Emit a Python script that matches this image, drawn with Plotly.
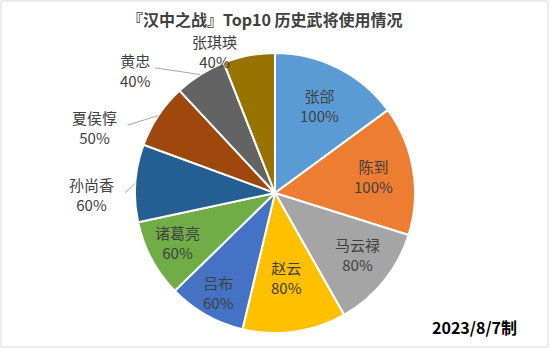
import math
import plotly.graph_objects as go

# ---- data ----
names = ["张郃", "陈到", "马云禄", "赵云", "吕布", "诸葛亮", "孙尚香", "夏侯惇", "黄忠", "张琪瑛"]
usage = [100, 100, 80, 80, 60, 60, 60, 50, 40, 40]
title_text = "『汉中之战』Top10 历史武将使用情况"
note_text = "2023/8/7制"

# ---- style ----
colors = ["#5B9BD5", "#ED7D31", "#A5A5A5", "#FFC000", "#4472C4",
          "#70AD47", "#255E91", "#9E480E", "#636363", "#997300"]
W, H = 550, 349
CX, CY, R = 275, 193, 140
FONT = "Noto Sans CJK SC, Noto Sans, sans-serif"
TXT = "#404040"
# label placement: (radius factor, angle offset from slice middle)
label_place = [(0.70, 0), (0.71, 0), (0.735, -2), (0.61, 0), (0.82, 0),
               (0.78, 1), (1.31, -4.6), (1.37, -13.5), (1.33, -16.5), (1.10, -12.5)]
# leader lines for outside labels: index -> end radius factor, end angle offset
leaders = {6: (1.07, -4), 7: (1.16, -8.9), 8: (1.24, -11.6)}


def px2paper(x, y):
    return x / W, 1 - y / H


def polar(angle_deg, rf):
    a = math.radians(angle_deg)
    return CX + rf * R * math.sin(a), CY - rf * R * math.cos(a)


fig = go.Figure(go.Pie(
    labels=names, values=usage, sort=False, direction="clockwise", rotation=0,
    marker=dict(colors=colors, line=dict(color="white", width=2)),
    textinfo="none", hoverinfo="none", showlegend=False,
    domain=dict(x=[(CX - R) / W, (CX + R) / W], y=[1 - (CY + R) / H, 1 - (CY - R) / H]),
))

total = sum(usage)
annotations = []
shapes = []
cum = 0
for i, (n, v) in enumerate(zip(names, usage)):
    mid = (cum + v / 2) / total * 360
    cum += v
    rf, off = label_place[i]
    lx, ly = polar(mid + off, rf)
    px, py = px2paper(lx, ly)
    annotations.append(dict(x=px, y=py, xref="paper", yref="paper", showarrow=False,
                            xanchor="center", yanchor="middle",
                            text=f"{n}<br>{v}%", align="center",
                            font=dict(family=FONT, size=15, color=TXT)))
    if i in leaders:
        erf, eoff = leaders[i]
        x0, y0 = polar(mid, 1.0)
        x1, y1 = polar(mid + eoff, erf)
        a0, b0 = px2paper(x0, y0)
        a1, b1 = px2paper(x1, y1)
        shapes.append(dict(type="line", xref="paper", yref="paper", x0=a0, y0=b0, x1=a1, y1=b1,
                           line=dict(color="#A6A6A6", width=1)))

tx, ty = px2paper(265, 19)
annotations.append(dict(x=tx, y=ty, xref="paper", yref="paper", showarrow=False,
                        xanchor="center", yanchor="middle", borderpad=0,
                        text=f"<b>{title_text}</b>",
                        font=dict(family=FONT, size=16, color=TXT)))
nx, ny = px2paper(474, 327)
annotations.append(dict(x=nx, y=ny, xref="paper", yref="paper", showarrow=False,
                        xanchor="center", yanchor="middle",
                        text=f"<b>{note_text}</b>",
                        font=dict(family=FONT, size=16, color="#000000")))

shapes.append(dict(type="rect", xref="paper", yref="paper",
                   x0=1 / W, y0=2 / H, x1=1 - 2 / W, y1=1 - 1 / H,
                   line=dict(color="#D9D9D9", width=1)))

fig.update_layout(width=W, height=H, margin=dict(l=0, r=0, t=0, b=0),
                  paper_bgcolor="white", plot_bgcolor="white",
                  annotations=annotations, shapes=shapes)

fig.write_html("out.html")
